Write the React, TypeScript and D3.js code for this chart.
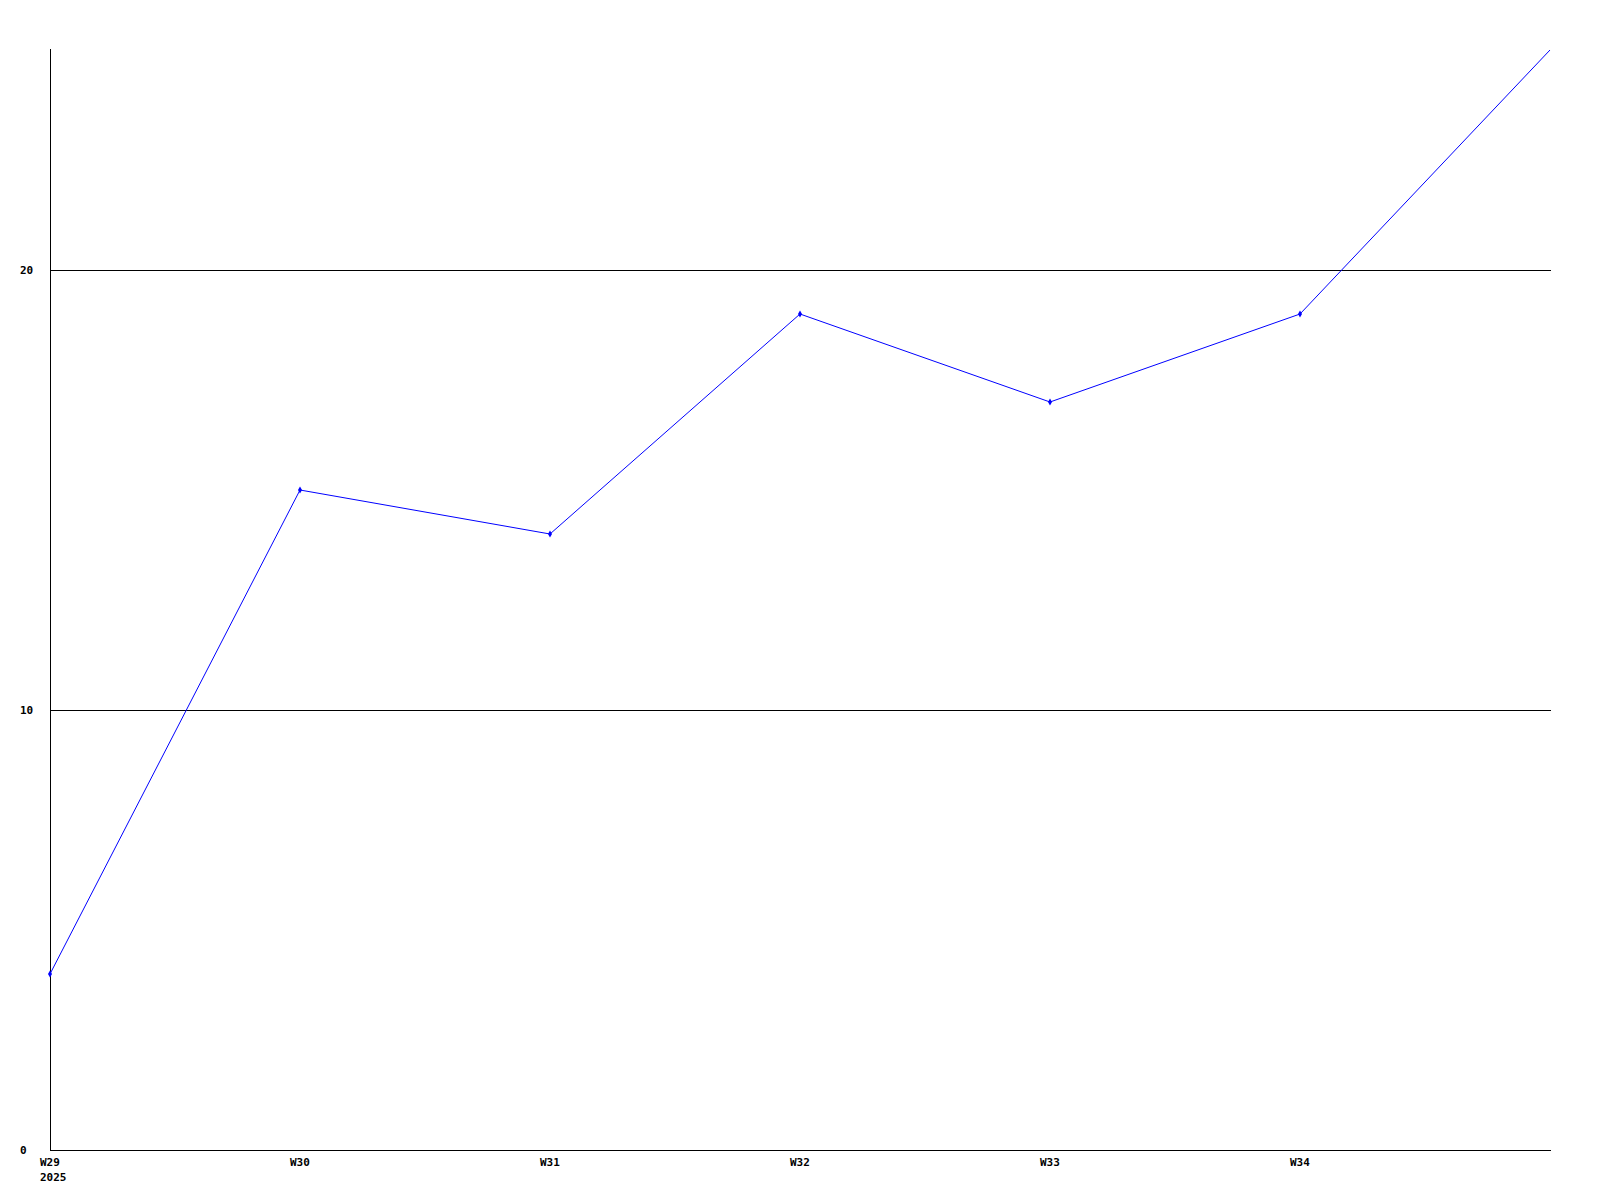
import React from "react";
import * as d3 from "d3";

const weeks = ["W29", "W30", "W31", "W32", "W33", "W34", "W35"];
const values = [4, 15, 14, 19, 17, 19, 25];
const yTicks = [0, 10, 20];
const yearLabel = "2025";

const W = 1600;
const H = 1200;
const M = { left: 50, right: 1551, top: 50, bottom: 1150 };
const FONT = "'DejaVu Sans Mono', monospace";

export default function App() {
  const x = d3.scaleLinear().domain([0, weeks.length - 1]).range([M.left, M.right - 1]);
  const y = d3.scaleLinear().domain([0, 25]).range([M.bottom, M.top]);
  const line = d3
    .line<number>()
    .x((_, i) => x(i))
    .y((d) => y(d));
  const diamond = d3.symbol().type(d3.symbolDiamond).size(14)();

  return (
    <svg
      width={W}
      height={H}
      style={{ position: "absolute", left: 0, top: 0, background: "#fff" }}
    >
      <defs>
        <clipPath id="plot">
          <rect x={M.left} y={M.top - 1} width={M.right - M.left} height={M.bottom - M.top + 1} />
        </clipPath>
      </defs>
      {yTicks
        .filter((t) => t > 0)
        .map((t) => (
          <line
            key={"g" + t}
            x1={M.left}
            x2={M.right}
            y1={Math.round(y(t)) + 0.5}
            y2={Math.round(y(t)) + 0.5}
            stroke="#000"
            strokeWidth={1}
            shapeRendering="crispEdges"
          />
        ))}
      <line
        x1={M.left + 0.5}
        x2={M.left + 0.5}
        y1={M.top - 1}
        y2={M.bottom}
        stroke="#000"
        shapeRendering="crispEdges"
      />
      <line
        x1={M.left}
        x2={M.right}
        y1={M.bottom + 0.5}
        y2={M.bottom + 0.5}
        stroke="#000"
        shapeRendering="crispEdges"
      />
      {yTicks.map((t) => (
        <text
          key={"y" + t}
          x={20}
          y={y(t)}
          dy="0.35em"
          fontFamily={FONT}
          fontWeight="bold"
          fontSize={11}
          fill="#000"
        >
          {t}
        </text>
      ))}
      {weeks.slice(0, weeks.length - 1).map((w, i) => (
        <text
          key={"x" + w}
          x={x(i) - 10}
          y={M.bottom + 16}
          fontFamily={FONT}
          fontWeight="bold"
          fontSize={11}
          fill="#000"
        >
          {w}
        </text>
      ))}
      <text
        x={x(0) - 10}
        y={M.bottom + 31}
        fontFamily={FONT}
        fontWeight="bold"
        fontSize={11}
        fill="#000"
      >
        {yearLabel}
      </text>
      <g clipPath="url(#plot)">
        <path d={line(values) || ""} fill="none" stroke="#0000ff" strokeWidth={1} />
      </g>
      {values.slice(0, values.length - 1).map((v, i) => (
        <path key={"m" + i} d={diamond || ""} transform={`translate(${x(i)},${y(v)})`} fill="#0000ff" />
      ))}
    </svg>
  );
}
